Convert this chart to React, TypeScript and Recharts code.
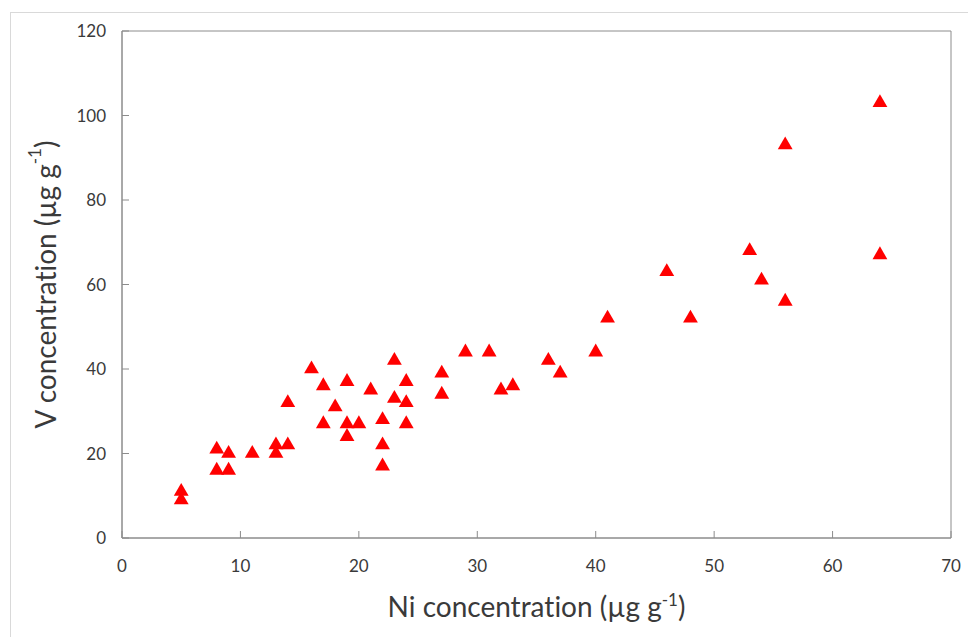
import React from 'react';
import { ScatterChart, Scatter, XAxis, YAxis, ReferenceArea, Symbols } from 'recharts';

// Ni (x) and V (y) concentrations, µg g-1
const niValues = [5, 5, 8, 8, 9, 9, 11, 13, 13, 14, 14, 16, 17, 17, 18, 19, 19, 19, 20, 21, 22, 22, 22, 23, 23, 24, 24, 24, 27, 27, 29, 31, 32, 33, 36, 37, 40, 41, 46, 48, 53, 54, 56, 56, 64, 64];
const vValues = [11, 9, 21, 16, 20, 16, 20, 22, 20, 22, 32, 40, 36, 27, 31, 37, 27, 24, 27, 35, 28, 22, 17, 42, 33, 37, 32, 27, 39, 34, 44, 44, 35, 36, 42, 39, 44, 52, 63, 52, 68, 61, 56, 93, 103, 67];
const xTicks = [0, 10, 20, 30, 40, 50, 60, 70];
const yTicks = [0, 20, 40, 60, 80, 100, 120];

const points = niValues.map((ni, i) => ({ ni, v: vValues[i] }));

const FONT = 'Lato, "Open Sans", sans-serif';
const TEXT = '#3a3a3a';
const AXIS = '#8c8c8c';
const noLig = { fontVariantLigatures: 'none' } as React.CSSProperties;

const Triangle = (props: any) => (
  <Symbols cx={props.cx} cy={props.cy} type="triangle" size={95} fill="#ff0000" />
);

const renderXTitle = (props: any) => {
  const { x, y, width } = props.viewBox;
  return (
    <text x={x + width / 2} y={y + 79} textAnchor="middle" fontFamily={FONT} fontSize={28} fill={TEXT} style={noLig}>
      Ni concentration (µg g<tspan dy={-11} fontSize={17}>-1</tspan><tspan dy={11}>)</tspan>
    </text>
  );
};

const renderYTitle = (props: any) => {
  const { x, y, height } = props.viewBox;
  const cx = x + 45;
  const cy = y + height / 2;
  return (
    <text
      x={cx}
      y={cy}
      transform={`rotate(-90 ${cx} ${cy})`}
      textAnchor="middle"
      dominantBaseline="central"
      fontFamily={FONT}
      fontSize={28}
      fill={TEXT}
      style={noLig}
    >
      V concentration (µg g<tspan dy={-11} fontSize={17}>-1</tspan><tspan dy={11}>)</tspan>
    </text>
  );
};

export default function App() {
  return (
    <div style={{ position: 'absolute', left: 0, top: 0, width: 968, height: 637, overflow: 'hidden', background: '#fff' }}>
      <div
        style={{
          position: 'absolute',
          left: 10,
          top: 12,
          width: 968,
          height: 637,
          border: '1px solid #d9d9d9',
        }}
      />
      <div style={{ position: 'absolute', left: 0, top: 0 }}>
        <ScatterChart width={968} height={637} margin={{ top: 31, right: 17, bottom: 0, left: 0 }}>
          <ReferenceArea x1={0} x2={70} y1={0} y2={120} fill="none" stroke={AXIS} strokeWidth={1} ifOverflow="visible" />
          <XAxis
            type="number"
            dataKey="ni"
            domain={[0, 70]}
            ticks={xTicks}
            interval={0}
            height={99}
            stroke={AXIS}
            tickSize={-7}
            tickMargin={29}
            tick={{ fontFamily: FONT, fontSize: 17, fill: TEXT }}
            label={renderXTitle}
          />
          <YAxis
            type="number"
            dataKey="v"
            domain={[0, 120]}
            ticks={yTicks}
            interval={0}
            width={122}
            stroke={AXIS}
            tickSize={-7}
            tickMargin={23}
            tick={{ fontFamily: FONT, fontSize: 17, fill: TEXT }}
            label={renderYTitle}
          />
          <Scatter data={points} shape={Triangle} fill="#ff0000" isAnimationActive={false} />
        </ScatterChart>
      </div>
    </div>
  );
}
